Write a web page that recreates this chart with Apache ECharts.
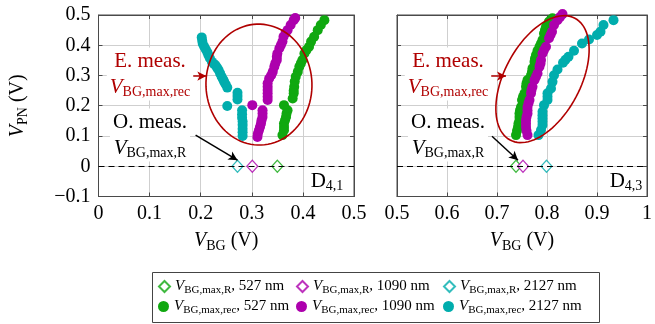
<!DOCTYPE html>
<html><head><meta charset="utf-8">
<script src="https://cdn.jsdelivr.net/npm/echarts@6/dist/echarts.min.js"></script>
<style>html,body{margin:0;padding:0;background:#fff}#c{width:655px;height:324px}</style>
</head><body><div id="c"></div>
<script>
// ---------- data ----------
const xTicksLeft = [0, 0.1, 0.2, 0.3, 0.4, 0.5];
const xTicksRight = [0.5, 0.6, 0.7, 0.8, 0.9, 1];
const yTicks = [-0.1, 0, 0.1, 0.2, 0.3, 0.4, 0.5];

const leftR527 = [[0.350, 0]];
const leftR1090 = [[0.301, 0]];
const leftR2127 = [[0.272, 0]];
const rightR527 = [[0.738, 0]];
const rightR1090 = [[0.752, 0]];
const rightR2127 = [[0.799, 0]];

const leftRec527 = [[0.442,0.483],[0.435,0.467],[0.429,0.450],[0.422,0.428],[0.416,0.412],[0.412,0.395],[0.407,0.384],[0.403,0.373],[0.399,0.351],[0.396,0.340],[0.393,0.329],[0.390,0.312],[0.386,0.296],[0.384,0.280],[0.383,0.263],[0.382,0.250],[0.382,0.241],[0.380,0.224],[0.363,0.202],[0.370,0.185],[0.368,0.174],[0.367,0.163],[0.365,0.152],[0.363,0.141],[0.363,0.130],[0.363,0.119],[0.360,0.103]];
const leftRec1090 = [[0.385,0.490],[0.382,0.483],[0.376,0.467],[0.370,0.450],[0.366,0.440],[0.362,0.428],[0.360,0.412],[0.357,0.401],[0.354,0.390],[0.350,0.373],[0.349,0.362],[0.349,0.351],[0.346,0.340],[0.344,0.329],[0.341,0.312],[0.338,0.301],[0.334,0.290],[0.331,0.274],[0.331,0.263],[0.331,0.252],[0.331,0.241],[0.331,0.230],[0.331,0.219],[0.301,0.202],[0.321,0.185],[0.321,0.174],[0.321,0.163],[0.319,0.152],[0.318,0.141],[0.316,0.130],[0.314,0.119],[0.312,0.108],[0.311,0.097]];
const leftRec2127 = [[0.202,0.426],[0.203,0.415],[0.204,0.405],[0.207,0.395],[0.210,0.386],[0.213,0.377],[0.215,0.368],[0.218,0.357],[0.222,0.345],[0.226,0.338],[0.229,0.334],[0.232,0.326],[0.235,0.318],[0.238,0.307],[0.241,0.296],[0.244,0.287],[0.246,0.279],[0.249,0.270],[0.252,0.260],[0.272,0.243],[0.272,0.232],[0.272,0.221],[0.252,0.199],[0.281,0.185],[0.281,0.172],[0.281,0.160],[0.282,0.148],[0.282,0.136],[0.282,0.124],[0.282,0.112],[0.282,0.100]];

const rightRec527 = [[0.811,0.489],[0.808,0.484],[0.804,0.478],[0.798,0.461],[0.796,0.450],[0.794,0.439],[0.791,0.417],[0.788,0.406],[0.785,0.395],[0.781,0.382],[0.778,0.368],[0.776,0.356],[0.775,0.345],[0.771,0.324],[0.770,0.312],[0.768,0.301],[0.761,0.285],[0.759,0.274],[0.758,0.263],[0.755,0.241],[0.752,0.230],[0.750,0.219],[0.748,0.196],[0.746,0.185],[0.745,0.174],[0.745,0.163],[0.745,0.152],[0.743,0.141],[0.742,0.130],[0.740,0.117],[0.738,0.103]];
const rightRec1090 = [[0.831,0.503],[0.826,0.493],[0.821,0.483],[0.814,0.467],[0.810,0.445],[0.807,0.434],[0.804,0.423],[0.798,0.395],[0.794,0.384],[0.791,0.373],[0.788,0.351],[0.787,0.340],[0.785,0.329],[0.781,0.307],[0.778,0.296],[0.775,0.285],[0.771,0.263],[0.769,0.252],[0.768,0.241],[0.765,0.219],[0.763,0.208],[0.761,0.196],[0.761,0.185],[0.761,0.174],[0.759,0.163],[0.758,0.152],[0.758,0.141],[0.758,0.130],[0.759,0.117],[0.761,0.103]];
const rightRec2127 = [[0.933,0.483],[0.913,0.467],[0.907,0.445],[0.900,0.434],[0.884,0.419],[0.870,0.406],[0.854,0.382],[0.843,0.362],[0.837,0.352],[0.832,0.342],[0.821,0.320],[0.814,0.301],[0.811,0.279],[0.808,0.257],[0.801,0.241],[0.801,0.230],[0.801,0.219],[0.794,0.202],[0.791,0.180],[0.791,0.169],[0.791,0.158],[0.791,0.147],[0.791,0.136],[0.788,0.120],[0.783,0.103]];

const seriesNames = ['R527', 'R1090', 'R2127', 'rec527', 'rec1090', 'rec2127'];
const legendLabels = {
  R527: ['BG,max,R', '527 nm'], R1090: ['BG,max,R', '1090 nm'], R2127: ['BG,max,R', '2127 nm'],
  rec527: ['BG,max,rec', '527 nm'], rec1090: ['BG,max,rec', '1090 nm'], rec2127: ['BG,max,rec', '2127 nm']
};
const panelLabels = ['4,1', '4,3'];

// ---------- style ----------
const FONT = 'Liberation Serif';
const GREEN = '#10a810', MAGENTA = '#ad00ad', CYAN = '#00adad', RED = '#b00000';
const GRIDC = '#cfcfcf', FRAME = '#4a4a4a';

const chart = echarts.init(document.getElementById('c'), null, {renderer: 'canvas'});

function fmt(v) { return String(+(+v).toFixed(1)).replace('-', '\u2212'); }
const subRich = {
  v: {fontFamily: FONT, fontStyle: 'italic', fontSize: 20, color: '#000'},
  s: {fontFamily: FONT, fontSize: 14, color: '#000', padding: [11, 0, 0, 0]},
  t: {fontFamily: FONT, fontSize: 20, color: '#000'}
};

function xAx(grid, min, max, pos, labels) {
  return {
    type: 'value', gridIndex: grid, min: min, max: max, interval: 0.1, position: pos,
    axisLine: {show: true, onZero: false, lineStyle: {color: FRAME, width: 1}},
    axisTick: {show: true, inside: true, length: 4, lineStyle: {color: FRAME}},
    axisLabel: {show: labels, formatter: fmt, fontFamily: FONT, fontSize: 20, color: '#000', margin: 7},
    splitLine: {show: labels, lineStyle: {color: GRIDC, width: 1}},
    name: labels ? '{v|V}{s|BG}{t| (V)}' : '', nameLocation: 'middle', nameGap: 32,
    nameTextStyle: {rich: subRich}
  };
}
function yAx(grid, pos, labels, split, name) {
  return {
    type: 'value', gridIndex: grid, min: -0.1, max: 0.5, interval: 0.1, position: pos,
    axisLine: {show: true, onZero: false, lineStyle: {color: FRAME, width: 1}},
    axisTick: {show: true, inside: true, length: 4, lineStyle: {color: FRAME}},
    axisLabel: {show: labels, formatter: fmt, fontFamily: FONT, fontSize: 20, color: '#000', margin: 8},
    splitLine: {show: split, lineStyle: {color: GRIDC, width: 1}},
    name: name ? '{v|V}{s|PN}{t| (V)}' : '', nameLocation: 'middle', nameGap: 68, nameRotate: 90,
    nameTextStyle: {rich: subRich}
  };
}

function diamond(name, data, color, xi, yi) {
  return {name: name, type: 'scatter', data: data, xAxisIndex: xi, yAxisIndex: yi, symbol: 'diamond',
    symbolSize: [11, 12], clip: false, z: 4,
    itemStyle: {color: '#fff', borderColor: color, borderWidth: 1.2}};
}
function dots(name, data, color, xi, yi) {
  return {name: name, type: 'scatter', data: data, xAxisIndex: xi, yAxisIndex: yi, symbol: 'circle',
    symbolSize: 10, clip: false, z: 3, itemStyle: {color: color, opacity: 1}};
}
function arrow(xi, yi, from, to, color) {
  return {type: 'scatter', data: [], xAxisIndex: xi, yAxisIndex: yi, silent: true, z: 6,
    markLine: {silent: true, symbol: ['none', 'arrow'], symbolSize: [7, 9], animation: false,
      label: {show: false}, lineStyle: {color: color, width: 1.5, type: 'solid'},
      data: [[{coord: from}, {coord: to}]]}};
}
function zeroLine(xi, yi) {
  return {type: 'scatter', data: [], xAxisIndex: xi, yAxisIndex: yi, silent: true, z: 2,
    markLine: {silent: true, symbol: ['none', 'none'], animation: false, label: {show: false},
      lineStyle: {color: '#000', width: 1, type: [6, 4]}, data: [{yAxis: 0}]}};
}

// one legend component per entry, laid out as a 3 x 2 table inside a framed box
const legendCols = [158, 296, 443];
const legendRows = [279, 299];
const legendRich = {
  v: {fontFamily: FONT, fontStyle: 'italic', fontSize: 15, color: '#000'},
  s: {fontFamily: FONT, fontSize: 11, color: '#000', padding: [7, 0, 0, 0]},
  t: {fontFamily: FONT, fontSize: 15, color: '#000'}
};
const legends = seriesNames.map(function (n, i) {
  return {
    data: [n], left: legendCols[i % 3], top: legendRows[Math.floor(i / 3)], padding: 0,
    itemWidth: 11, itemHeight: 11, orient: 'horizontal',
    formatter: function (nm) { const l = legendLabels[nm]; return '{v|V}{s|' + l[0] + '}{t|, ' + l[1] + '}'; },
    textStyle: {rich: legendRich}
  };
});

const option = {
  animation: false,
  backgroundColor: '#fff',
  grid: [
    {left: 98.5, top: 15, width: 255.5, height: 181.5, show: true, borderColor: FRAME, borderWidth: 1},
    {left: 397, top: 15, width: 255, height: 181.5, show: true, borderColor: FRAME, borderWidth: 1}
  ],
  xAxis: [
    xAx(0, 0, 0.5, 'bottom', true), xAx(0, 0, 0.5, 'top', false),
    xAx(1, 0.5, 1, 'bottom', true), xAx(1, 0.5, 1, 'top', false)
  ],
  yAxis: [
    yAx(0, 'left', true, true, true), yAx(0, 'right', false, false, false),
    yAx(1, 'left', false, true, false), yAx(1, 'right', false, false, false)
  ],
  legend: legends,
  series: [
    zeroLine(0, 0), zeroLine(2, 2),
    diamond('R527', leftR527, GREEN, 0, 0), diamond('R1090', leftR1090, MAGENTA, 0, 0), diamond('R2127', leftR2127, CYAN, 0, 0),
    dots('rec527', leftRec527, GREEN, 0, 0), dots('rec1090', leftRec1090, MAGENTA, 0, 0), dots('rec2127', leftRec2127, CYAN, 0, 0),
    diamond('R527', rightR527, GREEN, 2, 2), diamond('R1090', rightR1090, MAGENTA, 2, 2), diamond('R2127', rightR2127, CYAN, 2, 2),
    dots('rec527', rightRec527, GREEN, 2, 2), dots('rec1090', rightRec1090, MAGENTA, 2, 2), dots('rec2127', rightRec2127, CYAN, 2, 2),
    arrow(0, 0, [0.184, 0.298], [0.211, 0.298], RED),
    arrow(2, 2, [0.682, 0.298], [0.718, 0.298], RED),
    arrow(0, 0, [0.190, 0.103], [0.272, 0.020], '#000'),
    arrow(2, 2, [0.690, 0.099], [0.742, 0.020], '#000')
  ]
};
chart.setOption(option);

// ---------- annotations (ellipses, text nodes, legend frame) ----------
function ellipsePts(cx, cy, A, B, phiDeg) {
  const phi = phiDeg * Math.PI / 180, pts = [];
  for (let i = 0; i <= 96; i++) {
    const t = i / 96 * 2 * Math.PI, u = B * Math.cos(t), v = A * Math.sin(t);
    pts.push([cx + u * Math.cos(phi) + v * Math.sin(phi), cy - (-u * Math.sin(phi) + v * Math.cos(phi))]);
  }
  return pts;
}
const cL = chart.convertToPixel({xAxisIndex: 0, yAxisIndex: 0}, [0.314, 0.27]);
const cR = chart.convertToPixel({xAxisIndex: 2, yAxisIndex: 2}, [0.791, 0.288]);

const nodeRich = function (col) {
  return {
    a: {fontFamily: FONT, fontSize: 21, color: col, lineHeight: 26, align: 'center'},
    v: {fontFamily: FONT, fontStyle: 'italic', fontSize: 21, color: col},
    s: {fontFamily: FONT, fontSize: 14, color: col, padding: [11, 0, 0, 0]}
  };
};
function node(x, y, txt, col) {
  return {type: 'text', x: x, y: y, z: 50, silent: true,
    style: {text: txt, fill: col, align: 'center', verticalAlign: 'middle', backgroundColor: '#fff',
      padding: [1, 3, 1, 3], rich: nodeRich(col), font: '21px ' + FONT}};
}
const graphics = [
  {type: 'rect', z: -1, silent: true, shape: {x: 152.5, y: 272.5, width: 447, height: 50},
    style: {stroke: '#444', lineWidth: 1, fill: '#fff'}},
  {type: 'polyline', z: 40, silent: true, shape: {points: ellipsePts(cL[0], cL[1], 60.5, 53, -2)},
    style: {stroke: RED, lineWidth: 1.6, fill: null}},
  {type: 'polyline', z: 40, silent: true, shape: {points: ellipsePts(cR[0], cR[1], 69, 38, 28)},
    style: {stroke: RED, lineWidth: 1.6, fill: null}},
  node(150, 74, '{a|E. meas.}\n{v|V}{s|BG,max,rec}', RED),
  node(448, 74, '{a|E. meas.}\n{v|V}{s|BG,max,rec}', RED),
  node(150, 135, '{a|O. meas.}\n{v|V}{s|BG,max,R}', '#000'),
  node(448, 135, '{a|O. meas.}\n{v|V}{s|BG,max,R}', '#000'),
  node(327, 181, '{a|D}{s|' + panelLabels[0] + '}', '#000'),
  node(626, 181, '{a|D}{s|' + panelLabels[1] + '}', '#000')
];
chart.setOption({graphic: graphics});
</script></body></html>
